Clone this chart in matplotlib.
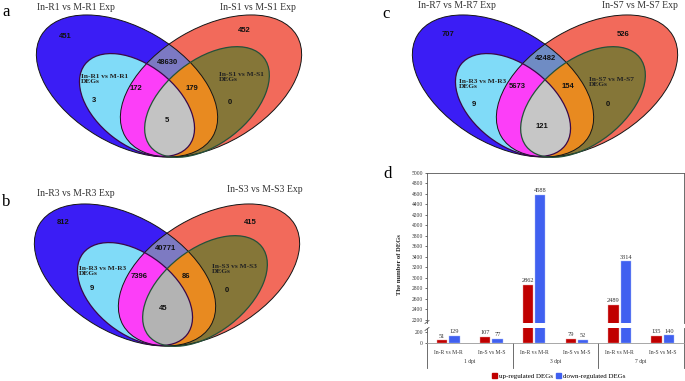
import numpy as np
import matplotlib
matplotlib.use("Agg")
import matplotlib.pyplot as plt
from matplotlib.patches import Ellipse, Patch

plt.rcParams['font.family'] = ['Liberation Serif', 'DejaVu Sans']

# ---------------- data ----------------
venn_a_titles = ["In-R1 vs M-R1 Exp", "In-S1 vs M-S1 Exp"]
venn_b_titles = ["In-R3 vs M-R3 Exp", "In-S3 vs M-S3 Exp"]
venn_c_titles = ["In-R7 vs M-R7 Exp", "In-S7 vs M-S7 Exp"]
venn_a_degs = ["In-R1 vs M-R1\nDEGs", "In-S1 vs M-S1\nDEGs"]
venn_b_degs = ["In-R3 vs M-R3\nDEGs", "In-S3 vs M-S3\nDEGs"]
venn_c_degs = ["In-R3 vs M-R3\nDEGs", "In-S7 vs M-S7\nDEGs"]
# region order: R-Exp only, S-Exp only, both Exp, R-DEG only, R-DEG & S-Exp,
#               S-DEG & R-Exp, S-DEG only, both DEG
venn_a_counts = [451, 452, 48630, 3, 172, 179, 0, 5]
venn_b_counts = [812, 415, 40771, 9, 7396, 86, 0, 45]
venn_c_counts = [707, 526, 42482, 9, 5673, 154, 0, 121]

dpi_groups = ["1 dpi", "3 dpi", "7 dpi"]
comparisons = ["In-R vs M-R", "In-S vs M-S", "In-R vs M-R", "In-S vs M-S",
               "In-R vs M-R", "In-S vs M-S"]
up_regulated = [51, 107, 2862, 79, 2489, 135]
down_regulated = [129, 77, 4588, 52, 3314, 140]
series_names = ["up-regulated DEGs", "down-regulated DEGs"]

# ---------------- style ----------------
C_BLUE = "#3b1df5"
C_RED = "#f26a5b"
C_LBLUE = "#80dbf8"
C_MAG = "#fc3ef8"
C_ORANGE = "#e88a20"
C_OLIVE = "#857638"
C_UP = "#c00000"
C_DOWN = "#4060f0"
NUMFONT = dict(family=['Liberation Sans', 'DejaVu Sans'], fontweight='bold', fontsize=5.5)

fig = plt.figure(figsize=(6.85, 3.81), dpi=100)
vax = fig.add_axes([0, 0, 1, 1])
vax.set_xlim(0, 685)
vax.set_ylim(381, 0)
vax.axis('off')


def draw_venn(ax, ox, oy, counts, titles, degs, count_pos, deg_pos, title_pos,
              panel, panel_pos, inter_col, gray_col):
    def ell(cx, cy, w, h, ang, **kw):
        e = Ellipse((cx + ox, cy + oy), w, h, angle=ang, **kw)
        ax.add_patch(e)
        return e
    RB = (127, 86, 199, 116, 30.5)
    SB = (211, 86, 199, 116, -30.5)
    RD = (137, 105, 132, 80, 38)
    SD = (207, 102, 144, 84, -38)
    big_r = ell(*RB, fc=C_BLUE, ec='none', zorder=1)
    big_s = ell(*SB, fc=C_RED, ec='none', zorder=1)
    both = ell(*RB, fc=inter_col, ec='none', zorder=2)
    both.set_clip_path(big_s)
    ell(*RD, fc=C_LBLUE, ec='none', zorder=3)
    deg_s = ell(*SD, fc=C_OLIVE, ec='none', zorder=3.1)
    mag = ell(*RD, fc=C_MAG, ec='none', zorder=4)
    mag.set_clip_path(big_s)
    org = ell(*SD, fc=C_ORANGE, ec='none', zorder=4.1)
    org.set_clip_path(big_r)
    gry = ell(*RD, fc=gray_col, ec='none', zorder=5)
    gry.set_clip_path(deg_s)
    ell(*RB, fill=False, ec='#151515', lw=0.7, zorder=6)
    ell(*SB, fill=False, ec='#151515', lw=0.7, zorder=6)
    ell(*RD, fill=False, ec='#3a0848', lw=0.9, zorder=6)
    ell(*SD, fill=False, ec='#24513a', lw=0.9, zorder=6)
    for val, (px, py) in zip(counts, count_pos):
        ax.text(px, py, f"{val}", ha='center', va='center', zorder=7, color='#111111', **NUMFONT)
    for lab, (px, py) in zip(degs, deg_pos):
        ax.text(px, py, lab, ha='left', va='center', fontsize=5.3, fontweight='bold',
                color='#222222', linespacing=1.15, zorder=7)
    for lab, (px, py) in zip(titles, title_pos):
        ax.text(px, py, lab, ha='left', va='center', fontsize=7, color='#333333', zorder=7)
    ax.text(panel_pos[0], panel_pos[1], panel, ha='center', va='center', fontsize=12, zorder=7)


draw_venn(vax, 0, 0, venn_a_counts, venn_a_titles, venn_a_degs,
          [(65, 36), (244, 31), (168, 62), (94, 101), (136, 89), (192, 88), (230, 103), (167, 120)],
          [(81, 79), (219, 77)], [(37, 7), (220, 7)], "a", (6, 12), "#7c79c3", "#c3c3c3")
draw_venn(vax, -2, 189, venn_b_counts, venn_b_titles, venn_b_degs,
          [(63, 222), (250, 222), (166, 249), (92, 289), (139, 277), (186, 276), (227, 290), (163, 309)],
          [(79, 271), (212, 269)], [(37, 193), (227, 189)], "b", (6, 202), "#7d7ac2", "#b3b3b3")
draw_venn(vax, 376, 0, venn_c_counts, venn_c_titles, venn_c_degs,
          [(448, 34), (623, 34), (546, 58), (474, 105), (517, 87), (568, 87), (608, 104), (542, 126)],
          [(459, 84), (589, 82)], [(418, 6), (602, 5)], "c", (386, 14), "#6f8cc4", "#c6c6c6")

# ---------------- bar chart (d) ----------------
L = 427 / 685
W = (684 - 427) / 685
ax_top = fig.add_axes([L, 1 - 323 / 381, W, 150 / 381])
ax_bot = fig.add_axes([L, 1 - 343 / 381, W, 15 / 381])
x = np.arange(len(comparisons))
bw, off = 0.24, 0.145
for ax in (ax_top, ax_bot):
    ax.patch.set_alpha(0)
    ax.bar(x - off, up_regulated, bw, color=C_UP, edgecolor='#e8a0a0', linewidth=0.3)
    ax.bar(x + off, down_regulated, bw, color=C_DOWN, edgecolor='#a8b8f8', linewidth=0.3)
    ax.set_xlim(-0.5, 5.5)
    ax.tick_params(axis='y', labelsize=4, length=1.5, width=0.5, pad=1.5, colors='#333333')
    ax.tick_params(axis='x', length=0, labelbottom=False)
    for s in ax.spines.values():
        s.set_linewidth(0.6)
        s.set_color('#555555')
ax_top.set_ylim(2136, 5000)
ax_bot.set_ylim(0, 273)
ax_top.set_yticks(np.arange(2200, 5001, 200))
ax_bot.set_yticks([0, 200])
ax_top.spines['bottom'].set_visible(False)
ax_bot.spines['top'].set_visible(False)
ax_bot.spines['bottom'].set_color('#999999')
ax_top.set_xticks([])

for xs, vals in ((x - off, up_regulated), (x + off, down_regulated)):
    for xi, v in zip(xs, vals):
        target = ax_top if v > 2136 else ax_bot
        target.annotate(f"{v}", (xi, v), xytext=(0, 1.2), textcoords='offset points',
                        ha='center', va='bottom', fontsize=4.6, color='#333333',
                        annotation_clip=False)

tr = ax_bot.get_xaxis_transform()
for b in (-0.5, 1.5, 3.5, 5.5):
    ax_bot.plot([b, b], [0, -25 / 15], transform=tr, color='#555555', lw=0.6, clip_on=False)
for xi, lab in zip(x, comparisons):
    ax_bot.text(xi, -9 / 15, lab, transform=tr, ha='center', va='center', fontsize=4.1, color='#333333')
for gi, g in enumerate(dpi_groups):
    ax_bot.text(2 * gi + 0.5, -19 / 15, g, transform=tr, ha='center', va='center', fontsize=4.1, color='#333333')

# break marks on y axis
for yy in (322, 329):
    vax.plot([425, 429], [yy + 1.5, yy - 1.5], color='#555555', lw=0.6, zorder=10)

fig.text(400 / 685, 1 - 265 / 381, "The number of DEGs", rotation=90, ha='center', va='center',
         fontsize=4.8, fontweight='bold', color='#222222')
fig.text(388 / 685, 1 - 174 / 381, "d", ha='center', va='center', fontsize=12)

handles = [Patch(color=C_UP), Patch(color=C_DOWN)]
fig.legend(handles, series_names, loc='center', bbox_to_anchor=(559 / 685, 1 - 376 / 381),
           ncol=2, frameon=False, fontsize=5, handlelength=0.7, handleheight=0.7,
           handletextpad=0.3, columnspacing=0.4, borderpad=0)

fig.savefig("out.png", dpi=100)
